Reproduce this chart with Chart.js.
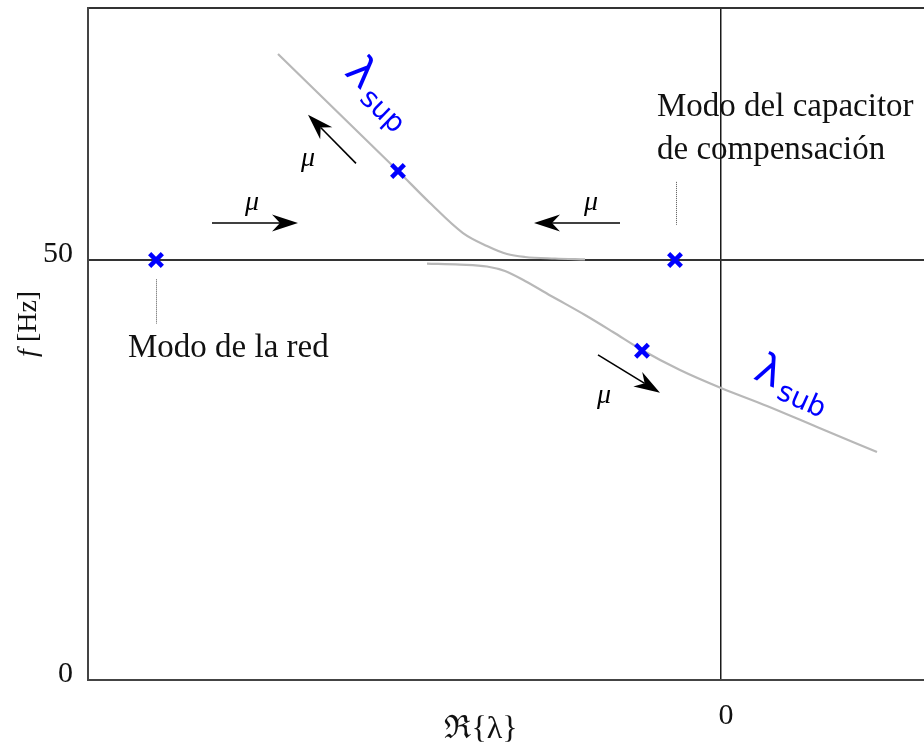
<!DOCTYPE html>
<html lang="es">
<head>
<meta charset="utf-8">
<script src="https://cdn.jsdelivr.net/npm/chart.js"></script>
<style>
  html, body { margin: 0; padding: 0; background: #fff; overflow: hidden; }
</style>
</head>
<body>
<canvas id="locus" width="924" height="746"></canvas>
<script>
// Lugar de los modos: parte real vs frecuencia al variar mu
const supRe = [-4.43, -4.03, -3.63, -3.23, -2.91, -2.58, -2.34, -2.14, -1.96, -1.66, -1.36];
const supF  = [74.52, 69.88, 65.24, 60.60, 56.79, 53.21, 51.67, 50.71, 50.36, 50.18, 50.08];
const subRe = [-2.94, -2.61, -2.34, -2.16, -1.96, -1.68, -1.36, -1.08, -0.79, -0.41, 0.00, 0.46, 0.96, 1.56];
const subF  = [49.58, 49.46, 49.23, 48.69, 47.50, 45.60, 43.45, 41.43, 39.29, 36.90, 34.76, 32.62, 30.12, 27.14];
const modeRe = [-5.65, -0.46, -3.23, -0.79];
const modeF  = [50, 50, 60.6, 39.2];
const xTicks = [0];
const yTicks = [0, 50];
const fMax = 80;

const pts = (xs, ys) => xs.map((v, i) => ({ x: v, y: ys[i] }));

const SERIF = "'Liberation Serif', 'DejaVu Serif', serif";
const SANS = "'DejaVu Sans', sans-serif";

// flechas de mu: [re cola, f cola, re punta, f punta]
const muArrows = [
  [-5.09, 54.4, -4.23, 54.4],
  [-3.65, 61.5, -4.13, 67.3],
  [-1.01, 54.4, -1.87, 54.4],
  [-1.23, 38.7, -0.61, 34.2]
];
const muLabels = [[-4.69, 56.8], [-4.13, 62.1], [-1.30, 56.8], [-1.17, 33.9]];

function arrow(ctx, x0, y0, x1, y1) {
  const a = Math.atan2(y1 - y0, x1 - x0);
  const L = 26, W = 8.5, N = 8;
  const ux = Math.cos(a), uy = Math.sin(a);
  const bx = x1 - ux * L, by = y1 - uy * L;
  const nx = x1 - ux * (L - N), ny = y1 - uy * (L - N);
  ctx.beginPath();
  ctx.moveTo(x0, y0);
  ctx.lineTo(nx, ny);
  ctx.lineWidth = 1.6;
  ctx.stroke();
  ctx.beginPath();
  ctx.moveTo(x1, y1);
  ctx.lineTo(bx - uy * W, by + ux * W);
  ctx.lineTo(nx, ny);
  ctx.lineTo(bx + uy * W, by - ux * W);
  ctx.closePath();
  ctx.fill();
}

function lambda(ctx, px, py, deg, sub) {
  ctx.save();
  ctx.translate(px, py);
  ctx.rotate(deg * Math.PI / 180);
  ctx.fillStyle = '#0000ff';
  ctx.textBaseline = 'middle';
  ctx.font = '42px ' + SANS;
  ctx.textAlign = 'center';
  ctx.fillText('λ', 0, 0);
  const w = ctx.measureText('λ').width;
  ctx.font = '28px ' + SANS;
  ctx.textAlign = 'left';
  ctx.fillText(sub, w / 2 + 4, 12);
  ctx.restore();
}

const notes = {
  id: 'notes',
  afterDatasetsDraw(chart) {
    const { ctx, scales: { x, y }, chartArea } = chart;
    const P = (re, f) => [x.getPixelForValue(re), y.getPixelForValue(f)];
    ctx.save();

    // guías punteadas hacia los textos
    ctx.strokeStyle = '#555';
    ctx.lineWidth = 1;
    ctx.setLineDash([1, 1]);
    [[-5.65, 47.7, 42.4], [-0.45, 59.3, 54.2]].forEach(([re, f0, f1]) => {
      const [a, b] = P(re, f0), [, c] = P(re, f1);
      ctx.beginPath();
      ctx.moveTo(Math.round(a) + 0.5, b);
      ctx.lineTo(Math.round(a) + 0.5, c);
      ctx.stroke();
    });
    ctx.setLineDash([]);

    // flechas
    ctx.strokeStyle = '#000';
    ctx.fillStyle = '#000';
    muArrows.forEach(([r0, f0, r1, f1]) => {
      const [a, b] = P(r0, f0), [c, d] = P(r1, f1);
      arrow(ctx, a, b, c, d);
    });
    ctx.font = 'italic 28px ' + SERIF;
    ctx.textAlign = 'center';
    ctx.textBaseline = 'middle';
    muLabels.forEach(([re, f]) => {
      const [a, b] = P(re, f);
      ctx.fillText('μ', a, b);
    });

    // textos de los modos
    ctx.fillStyle = '#111';
    ctx.font = '33px ' + SERIF;
    ctx.textAlign = 'left';
    let [a, b] = P(-5.93, 39.5);
    ctx.fillText('Modo de la red', a, b);
    [a, b] = P(-0.64, 68.2);
    ctx.fillText('Modo del capacitor', a, b);
    [a, b] = P(-0.64, 63.1);
    ctx.fillText('de compensación', a, b);

    // etiquetas de las ramas
    [a, b] = P(-3.61, 72.1);
    lambda(ctx, a, b, 44, 'sup');
    [a, b] = P(0.47, 36.5);
    lambda(ctx, a, b, 24, 'sub');

    // títulos de los ejes
    ctx.fillStyle = '#111';
    ctx.font = '32px ' + SERIF;
    ctx.textAlign = 'center';
    ctx.fillText('ℜ{λ}', x.getPixelForValue(-2.4), chartArea.bottom + 50);

    ctx.save();
    ctx.translate(29, y.getPixelForValue(42.4));
    ctx.rotate(-Math.PI / 2);
    ctx.font = 'italic 28px ' + SERIF;
    const wf = ctx.measureText('f').width;
    ctx.font = '28px ' + SERIF;
    const wh = ctx.measureText(' [Hz]').width;
    const x0 = -(wf + wh) / 2;
    ctx.textAlign = 'left';
    ctx.font = 'italic 28px ' + SERIF;
    ctx.fillText('f', x0, 0);
    ctx.font = '28px ' + SERIF;
    ctx.fillText(' [Hz]', x0 + wf, 0);
    ctx.restore();

    ctx.restore();
  }
};

new Chart(document.getElementById('locus'), {
  type: 'scatter',
  data: {
    datasets: [
      {
        data: pts(modeRe, modeF),
        order: 0,
        pointStyle: 'crossRot',
        pointRadius: 9,
        pointBorderWidth: 4.5,
        pointBorderColor: '#0000ff',
        pointBackgroundColor: '#0000ff'
      },
      {
        data: pts(supRe, supF),
        order: 1,
        showLine: true,
        cubicInterpolationMode: 'monotone',
        borderColor: '#b8b8b8',
        borderWidth: 2.2,
        pointRadius: 0
      },
      {
        data: pts(subRe, subF),
        order: 1,
        showLine: true,
        cubicInterpolationMode: 'monotone',
        borderColor: '#b8b8b8',
        borderWidth: 2.2,
        pointRadius: 0
      }
    ]
  },
  options: {
    responsive: false,
    animation: false,
    events: [],
    layout: { autoPadding: false, padding: { top: 8, left: 0, right: 0, bottom: 0 } },
    plugins: { legend: { display: false }, tooltip: { enabled: false } },
    scales: {
      x: {
        type: 'linear',
        min: -6.33,
        max: 2.03,
        afterBuildTicks: s => { s.ticks = xTicks.map(v => ({ value: v })); },
        afterFit: s => { s.height = 66; s.paddingLeft = 0; s.paddingRight = 0; },
        grid: { color: '#1a1a1a', lineWidth: 1.5, drawTicks: false },
        border: { color: '#444', width: 2 },
        ticks: {
          font: { family: SERIF, size: 30 },
          color: '#111',
          padding: 18,
          labelOffset: 5,
          maxRotation: 0
        }
      },
      y: {
        min: 0,
        max: fMax,
        afterBuildTicks: s => { s.ticks = yTicks.concat([fMax]).map(v => ({ value: v })); },
        afterFit: s => { s.width = 88; s.paddingTop = 0; s.paddingBottom = 0; },
        grid: {
          color: c => (c.tick && c.tick.value === 0) ? 'rgba(0,0,0,0)' : '#333',
          lineWidth: 2,
          drawTicks: false
        },
        border: { color: '#444', width: 2 },
        ticks: {
          callback: v => yTicks.includes(v) ? String(v) : '',
          font: { family: SERIF, size: 30 },
          color: '#111',
          padding: 15,
          labelOffset: -6
        }
      }
    }
  },
  plugins: [notes]
});
</script>
</body>
</html>
